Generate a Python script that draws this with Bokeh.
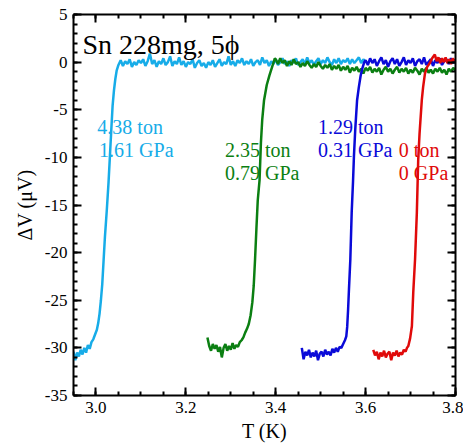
from bokeh.plotting import figure
from bokeh.models import LinearAxis, FixedTicker, Range1d, Label
from bokeh.embed import file_html
from bokeh.resources import INLINE

# ---------------- data ----------------
cyan_T = [2.950, 2.954, 2.958, 2.962, 2.966, 2.970, 2.974, 2.978, 2.982, 2.986, 2.990, 2.994, 2.998,
          3.002, 3.005, 3.008, 3.011, 3.014, 3.017, 3.020, 3.024, 3.028, 3.031, 3.034, 3.037, 3.040,
          3.043, 3.046,
          3.050, 3.055, 3.060, 3.065, 3.070, 3.075, 3.080, 3.085, 3.090, 3.095,
          3.100, 3.105, 3.110, 3.115, 3.120, 3.125, 3.130, 3.135, 3.140, 3.145,
          3.150, 3.155, 3.160, 3.165, 3.170, 3.175, 3.180, 3.185, 3.190, 3.195,
          3.200, 3.205, 3.210, 3.215, 3.220, 3.225, 3.230, 3.235, 3.240, 3.245,
          3.250, 3.255, 3.260, 3.265, 3.270, 3.275, 3.280, 3.285, 3.290, 3.295,
          3.300, 3.305, 3.310, 3.315, 3.320, 3.325, 3.330, 3.335, 3.340, 3.345,
          3.350, 3.355, 3.360, 3.365, 3.370, 3.375, 3.380, 3.385, 3.390, 3.395,
          3.400, 3.405, 3.410, 3.415, 3.420, 3.425, 3.430, 3.435, 3.440, 3.445,
          3.450, 3.455, 3.460, 3.465, 3.470, 3.475, 3.480, 3.485, 3.490, 3.495,
          3.500, 3.505, 3.510, 3.515, 3.520, 3.525, 3.530, 3.535, 3.540, 3.545,
          3.550, 3.555, 3.560, 3.565, 3.570, 3.575, 3.580, 3.585, 3.590, 3.595,
          3.600]
cyan_V = [-30.4, -31.3, -30.5, -30.9, -30.2, -30.7, -30.0, -30.5, -29.7, -30.1, -29.4, -29.1, -28.6,
          -28.1, -27.4, -26.4, -25.0, -23.3, -20.8, -18.3, -15.6, -12.6, -9.9, -7.2, -4.6, -3.0,
          -1.8, -0.9,
          -0.3, 0.2, -0.4, 0.1, -0.2, 0.3, -0.5, 0.0, -0.3, 0.2,
          -0.1, 0.3, -0.4, 0.1, 0.9, -0.2, 0.2, -0.5, 0.1, -0.2,
          0.4, -0.3, 0.0, 0.6, -0.4, 0.1, -0.2, 0.5, -0.3, 0.1,
          -0.5, 0.0, -0.2, 0.3, -0.6, -0.1, 0.2, -0.4, -0.1, -0.6,
          0.0, -0.3, 0.2, -0.5, -0.1, 0.3, -0.4, 0.0, -0.2, 0.6,
          -0.3, 0.1, -0.4, 0.2, -0.1, 0.4, -0.3, 0.1, -0.2, 0.3,
          -0.4, 0.0, 0.2, -0.3, 0.5, -0.1, 0.2, -0.4, 0.1, -0.2,
          0.3, -0.3, 0.0, 0.4, -0.2, 0.1, -0.4, 0.2, -0.1, 0.4,
          -0.3, 0.0, 0.3, -0.2, 0.5, -0.1, 0.2, -0.3, 0.1, 0.4,
          -0.2, 0.2, -0.1, 0.5, 0.0, -0.3, 0.3, -0.1, 0.4, -0.2,
          0.2, 0.0, 0.4, -0.2, 0.3, -0.1, 0.2, 0.5, -0.1, 0.3,
          0.0]

green_T = [3.248, 3.252, 3.256, 3.260, 3.264, 3.268, 3.272, 3.276, 3.280, 3.284, 3.288, 3.292, 3.296,
           3.300, 3.304, 3.308, 3.312, 3.316, 3.320,
           3.324, 3.328, 3.332, 3.336, 3.340, 3.344, 3.348, 3.351, 3.354, 3.357, 3.360, 3.364, 3.367,
           3.370, 3.374, 3.380, 3.386, 3.392, 3.398,
           3.400, 3.405, 3.410, 3.415, 3.420, 3.425, 3.430, 3.435, 3.440, 3.445,
           3.450, 3.455, 3.460, 3.465, 3.470, 3.475, 3.480, 3.485, 3.490, 3.495,
           3.500, 3.505, 3.510, 3.515, 3.520, 3.525, 3.530, 3.535, 3.540, 3.545,
           3.550, 3.555, 3.560, 3.565, 3.570, 3.575, 3.580, 3.585, 3.590, 3.595,
           3.600, 3.605, 3.610, 3.615, 3.620, 3.625, 3.630, 3.635, 3.640, 3.645,
           3.650, 3.655, 3.660, 3.665, 3.670, 3.675, 3.680, 3.685, 3.690, 3.695,
           3.700, 3.705, 3.710, 3.715, 3.720, 3.725, 3.730, 3.735, 3.740, 3.745,
           3.750, 3.755, 3.760, 3.765, 3.770, 3.775, 3.780, 3.785, 3.790, 3.795,
           3.800]
green_V = [-28.9, -29.8, -30.3, -29.6, -30.1, -29.7, -30.4, -29.9, -31.0, -30.0, -29.6, -30.3, -29.8,
           -30.2, -29.5, -30.1, -29.7, -29.9, -29.4,
           -29.2, -28.9, -28.4, -28.0, -27.5, -26.6, -25.2, -23.5, -20.7, -17.5, -14.5, -12.4, -8.5,
           -6.0, -4.0, -2.4, -1.4, -0.5, 0.4,
           0.3, -0.2, 0.4, -0.1, 0.2, -0.4, 0.1, -0.3, 0.3, -0.2,
           0.0, -0.5, -0.1, -0.4, 0.1, -0.3, -0.6, -0.2, -0.5, 0.0,
           -0.4, -0.7, -0.3, -0.6, -0.2, -0.8, -0.4, -0.7, -0.3, -0.9,
           -0.5, -0.8, -0.4, -1.1, -0.6, -0.9, -0.5, -1.0, -0.7, -1.2,
           -0.6, -0.9, -0.5, -1.1, -0.7, -1.0, -0.6, -1.3, -0.8, -0.5,
           -1.0, -0.7, -1.2, -0.8, -0.5, -1.1, -0.7, -1.0, -0.6, -1.2,
           -0.8, -1.1, -0.6, -0.9, -1.3, -0.7, -1.0, -0.6, -1.1, -0.8,
           -1.2, -0.7, -1.0, -0.6, -1.1, -0.8, -1.3, -0.7, -1.0, -0.6,
           -0.9]

blue_T = [3.458, 3.462, 3.466, 3.470, 3.474, 3.478, 3.482, 3.486, 3.490, 3.494, 3.498, 3.502, 3.506,
          3.510, 3.514, 3.518, 3.522, 3.526, 3.530, 3.534, 3.538, 3.542,
          3.546, 3.550, 3.554, 3.557, 3.559, 3.561, 3.563, 3.566, 3.569, 3.572, 3.574, 3.577, 3.581,
          3.585, 3.589, 3.593, 3.597,
          3.600, 3.605, 3.610, 3.615, 3.620, 3.625, 3.630, 3.635, 3.640, 3.645,
          3.650, 3.655, 3.660, 3.665, 3.670, 3.675, 3.680, 3.685, 3.690, 3.695,
          3.700, 3.705, 3.710, 3.715, 3.720, 3.725, 3.730, 3.735, 3.740, 3.745,
          3.750, 3.755, 3.760, 3.765, 3.770, 3.775, 3.780, 3.785, 3.790, 3.795,
          3.800]
blue_V = [-30.0, -31.2, -30.4, -30.8, -30.2, -31.0, -30.5, -30.9, -30.3, -31.3, -30.6, -30.4, -30.9,
          -30.2, -30.7, -30.4, -30.8, -30.1, -30.5, -30.0, -30.4, -29.9,
          -30.0, -29.6, -29.2, -28.8, -27.8, -26.0, -23.8, -20.7, -15.8, -12.5, -9.9, -7.0, -4.0,
          -2.6, -1.4, -0.6, 0.0,
          0.2, -0.3, 0.4, -0.1, 0.3, -0.4, 0.1, 0.5, -0.2, 0.2,
          -0.5, 0.1, 0.4, -0.2, 0.3, -0.4, 0.0, 0.5, -0.3, 0.2,
          -0.1, 0.4, -0.4, 0.1, 0.3, -0.2, 0.5, -0.3, 0.0, 0.3,
          -0.4, 0.2, -0.1, 0.4, -0.3, 0.1, 0.3, -0.2, 0.4, -0.1,
          0.2]

red_T = [3.617, 3.621, 3.625, 3.629, 3.633, 3.637, 3.641, 3.645, 3.649, 3.653, 3.657, 3.661, 3.665,
         3.669, 3.673, 3.677, 3.681, 3.685, 3.689,
         3.692, 3.695, 3.699, 3.703, 3.706, 3.710, 3.714, 3.717, 3.720, 3.725, 3.728, 3.732, 3.737,
         3.743, 3.748, 3.754,
         3.758, 3.762, 3.766, 3.770, 3.774, 3.778, 3.782, 3.786, 3.790, 3.794, 3.798, 3.800]
red_V = [-30.2, -30.8, -30.4, -31.2, -30.5, -30.9, -30.3, -31.0, -30.6, -30.4, -31.3, -30.5, -30.8,
         -30.3, -30.9, -30.5, -30.7, -30.2, -30.4,
         -30.0, -29.8, -29.0, -27.7, -24.2, -20.7, -15.8, -10.3, -7.5, -4.0, -2.6, -1.2, -0.5,
         -0.1, 0.4, 0.8,
         0.1, 0.5, -0.1, 0.4, 0.0, 0.5, -0.1, 0.3, -0.2, 0.4, 0.1, 0.3]

series_colors = ["#17ACE8", "#0B7F12", "#0A0AD8", "#E00A0A"]
load_labels = ["4.38 ton", "2.35 ton", "1.29 ton", "0 ton"]
pressure_labels = ["1.61 GPa", "0.79 GPa", "0.31 GPa", "0 GPa"]
x_ticks = [3.0, 3.2, 3.4, 3.6, 3.8]
x_tick_labels = ["3.0", "3.2", "3.4", "3.6", "3.8"]
x_minor = [2.95, 3.0, 3.05, 3.1, 3.15, 3.2, 3.25, 3.3, 3.35, 3.4, 3.45, 3.5, 3.55, 3.6, 3.65, 3.7, 3.75, 3.8]
y_ticks = [-35, -30, -25, -20, -15, -10, -5, 0, 5]
y_tick_labels = ["-35", "-30", "-25", "-20", "-15", "-10", "-5", "0", "5"]
y_minor = list(range(-35, 6))
title_text = "Sn 228mg, 5\u03d5"

FONT = "Liberation Serif"

p = figure(width=463, height=444, x_range=Range1d(2.95, 3.8), y_range=Range1d(-35, 5),
           output_backend="svg", toolbar_location=None,
           min_border_left=73, min_border_right=8, min_border_top=14, min_border_bottom=48)
p.grid.visible = False
p.outline_line_color = None
p.background_fill_color = "white"
p.border_fill_color = "white"

bottom = p.below[0]
left = p.left[0]
bottom.axis_label = "T (K)"
left.axis_label = "\u0394V (\u03bcV)"
bottom.ticker = FixedTicker(ticks=x_ticks, minor_ticks=x_minor)
left.ticker = FixedTicker(ticks=y_ticks, minor_ticks=y_minor)
bottom.major_label_overrides = {t: s for t, s in zip(x_ticks, x_tick_labels)}
left.major_label_overrides = {t: s for t, s in zip(y_ticks, y_tick_labels)}

top = LinearAxis(ticker=FixedTicker(ticks=x_ticks, minor_ticks=x_minor),
                 major_label_overrides={t: "" for t in x_ticks})
right = LinearAxis(ticker=FixedTicker(ticks=y_ticks, minor_ticks=y_minor),
                   major_label_overrides={t: "" for t in y_ticks})
p.add_layout(top, "above")
p.add_layout(right, "right")

for ax in [bottom, left, top, right]:
    ax.axis_line_width = 2
    ax.axis_line_color = "black"
    ax.major_tick_in = 8
    ax.major_tick_out = 0
    ax.minor_tick_in = 4
    ax.minor_tick_out = 0
    ax.major_tick_line_width = 2
    ax.minor_tick_line_width = 2
    ax.major_label_text_font = FONT
    ax.major_label_text_font_size = "17px"
    ax.major_label_text_color = "black"
    ax.axis_label_text_font = FONT
    ax.axis_label_text_font_size = "20px"
    ax.axis_label_text_font_style = "normal"
    ax.axis_label_text_color = "black"

for ax in [top, right]:
    ax.major_label_standoff = 0

bottom.major_label_standoff = 6
left.major_label_standoff = 6
bottom.axis_label_standoff = 4
left.axis_label_standoff = 6

for T, V, c in [(cyan_T, cyan_V, series_colors[0]), (green_T, green_V, series_colors[1]),
                (blue_T, blue_V, series_colors[2]), (red_T, red_V, series_colors[3])]:
    p.line(T, V, line_color=c, line_width=2.5)

label_pos = [(3.003, -6.8, 3.007, -9.2), (3.287, -9.2, 3.287, -11.6),
             (3.494, -6.8, 3.494, -9.2), (3.674, -9.2, 3.674, -11.6)]
for i, (x1, y1, x2, y2) in enumerate(label_pos):
    p.add_layout(Label(x=x1, y=y1, text=load_labels[i], text_font=FONT, text_font_size="20px",
                       text_color=series_colors[i], text_baseline="alphabetic"))
    p.add_layout(Label(x=x2, y=y2, text=pressure_labels[i], text_font=FONT, text_font_size="20px",
                       text_color=series_colors[i], text_baseline="alphabetic"))

p.add_layout(Label(x=2.970, y=1.8, text=title_text, text_font=FONT, text_font_size="28px",
                   text_color="black", text_baseline="alphabetic"))

open("out.html", "w").write(file_html(p, INLINE))
